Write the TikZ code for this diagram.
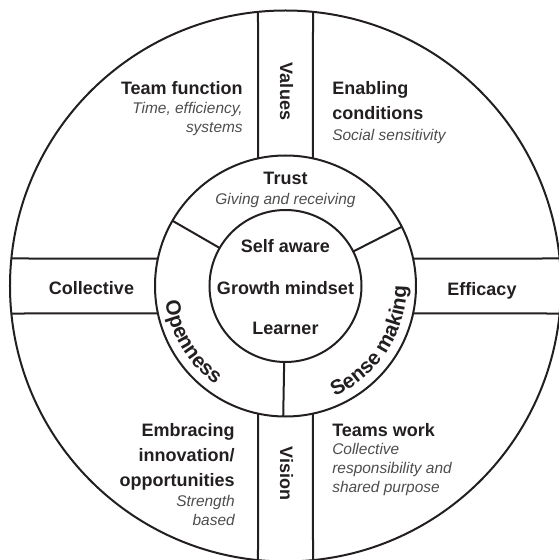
\documentclass[tikz,border=0pt]{standalone}
\usepackage{fontspec}
\setmainfont{Liberation Sans}
\usetikzlibrary{decorations.text}

\definecolor{ink}{RGB}{35,31,32}

\newcommand{\curvefont}{\fontsize{15.5pt}{18pt}\selectfont\bfseries}

\newcommand{\ringword}[3]
{
	\path[decorate,decoration={text along path,text align=center,text color=ink,text={|\curvefont|#3}}]
		(#1:121) arc[start angle=#1,end angle=#2,radius=121]
}

\begin{document}
\begin{tikzpicture}[x=0.75pt,y=0.75pt,
	ring/.style={draw=ink,line width=1.5pt},
	head/.style={font=\fontsize{13.5pt}{18.75pt}\selectfont\bfseries,text=ink,inner sep=0pt},
	gloss/.style={font=\fontsize{11.6pt}{14.25pt}\selectfont\itshape,text=ink!80,inner sep=0pt}]

	\useasboundingbox (-285.5,-274) rectangle (273.5,286);

	%%% Rings
	\draw[ring] (0,0) circle[radius=76];
	\draw[ring] (0,0) circle[radius=130.5];
	\draw[ring] (0,0) circle[radius=275.5];

	%%% Bands across the outer ring
	\foreach \a in {0,90,180,270}
	{
		\draw[ring,rotate=\a] (12.16:130.5) -- (5.73:275.5);
		\draw[ring,rotate=\a] (-12.16:130.5) -- (-5.73:275.5);
	}

	%%% Spokes of the middle ring
	\foreach \a in {27,150,269}
		\draw[ring] (\a:76) -- (\a:130.5);

	%%%%%%%%% CORE
	\node[head,anchor=base] (self) at (0,33) {Self aware};
	\node[head,anchor=base] (growth) at (0,-8) {Growth mindset};
	\node[head,anchor=base] (learner) at (0,-48) {Learner};

	%%%%%%%%% MIDDLE RING
	\node[head,anchor=base] (trust) at (0,101) {Trust};
	\node[gloss,anchor=base] (trustsub) at (0,81) {Giving and receiving};
	\ringword{181}{241}{Openness};
	\ringword{292}{362}{Sense making};

	%%%%%%%%% BANDS
	\node[head,rotate=-90] (values) at (1,194.5) {Values};
	\node[head,rotate=-90] (vision) at (1,-187.5) {Vision};
	\node[head,anchor=base] (collective) at (-194,-8.5) {Collective};
	\node[head,anchor=base] (efficacy) at (196.5,-9) {Efficacy};

	%%%%%%%%% QUARTERS (base = last line)
	\node[head,anchor=base east] (teamfn) at (-42.5,191) {Team function};
	\node[gloss,anchor=base east,align=right] (teamfnsub) at (-42.5,153.5) {Time, efficiency,\\systems};

	\node[head,anchor=base west,align=left] (enabling) at (46.5,166) {Enabling\\conditions};
	\node[gloss,anchor=base west] (enablingsub) at (46.5,145) {Social sensitivity};

	\node[head,anchor=base east,align=right] (embracing) at (-50.5,-200.7) {Embracing\\innovation/\\opportunities};
	\node[gloss,anchor=base east,align=right] (embracingsub) at (-50.5,-239) {Strength\\based};

	\node[head,anchor=base west] (teamswork) at (46.5,-150.7) {Teams work};
	\node[gloss,anchor=base west,align=left] (teamsworksub) at (46.5,-206.7) {Collective\\responsibility and\\shared purpose};
\end{tikzpicture}
\end{document}
